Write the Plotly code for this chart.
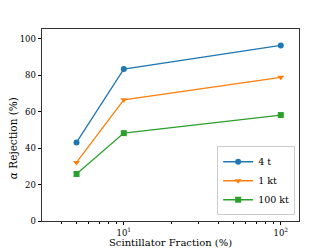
import plotly.graph_objects as go

fractions = [5, 10, 100]
series_names = ["4 t", "1 kt", "100 kt"]
rej_4t = [43.1, 83.3, 96.3]
rej_1kt = [32.1, 66.5, 78.8]
rej_100kt = [25.8, 48.2, 58.1]
colors = ["#1f77b4", "#ff7f0e", "#2ca02c"]
symbols = ["circle", "triangle-down", "square"]
y_ticks = [0, 20, 40, 60, 80, 100]
x_ticks = [10, 100]
x_ticktext = ["10<sup>1</sup>", "10<sup>2</sup>"]
x_title = "Scintillator Fraction (%)"
y_title = "<i>α</i> Rejection (%)"

font = "DejaVu Serif"
fig = go.Figure()
for name, vals, c, s in zip(series_names, [rej_4t, rej_1kt, rej_100kt], colors, symbols):
    fig.add_trace(go.Scatter(x=fractions, y=vals, name=name, mode="lines+markers",
                             line=dict(color=c, width=1.3),
                             marker=dict(color=c, symbol=s, size=6)))

minor_vals = [4, 5, 6, 7, 8, 9, 20, 30, 40, 50, 60, 70, 80, 90]
fig.update_layout(
    width=332, height=249,
    margin=dict(l=41.5, r=33, t=29, b=28),
    paper_bgcolor="white", plot_bgcolor="white",
    font=dict(family=font, size=8.5, color="black"),
    showlegend=True,
    legend=dict(x=0.985, y=0.03, xanchor="right", yanchor="bottom",
                bordercolor="#cccccc", borderwidth=1, bgcolor="rgba(255,255,255,0.8)",
                font=dict(family=font, size=9.5), tracegroupgap=0,
                itemwidth=30),
    xaxis=dict(type="log", range=[0.479, 2.116], tickvals=x_ticks, ticktext=x_ticktext,
               ticks="outside", ticklen=3.5, tickwidth=0.8, tickcolor="black",
               showgrid=False, zeroline=False, showline=True, linecolor="#333", linewidth=0.8,
               mirror=True,
               minor=dict(tickvals=minor_vals, ticks="outside", ticklen=2, tickwidth=0.6,
                          tickcolor="black", showgrid=False)),
    yaxis=dict(range=[0, 105.3], tickvals=y_ticks,
               ticks="outside", ticklen=3.5, tickwidth=0.8, tickcolor="black",
               showgrid=False, zeroline=False, showline=True, linecolor="#333", linewidth=0.8,
               mirror=True),
    annotations=[
        dict(text=x_title, xref="paper", yref="paper", x=0.5, y=-0.113,
             xanchor="center", yanchor="middle", showarrow=False,
             font=dict(family=font, size=10)),
        dict(text=y_title, xref="paper", yref="paper", x=-0.11, y=0.43,
             xanchor="center", yanchor="middle", showarrow=False, textangle=-90,
             font=dict(family=font, size=10.5)),
    ],
)
fig.write_html("out.html", config={"displayModeBar": False},
               post_script="document.body.style.margin='0';document.body.style.overflow='hidden';window.scrollTo(0,0);")
